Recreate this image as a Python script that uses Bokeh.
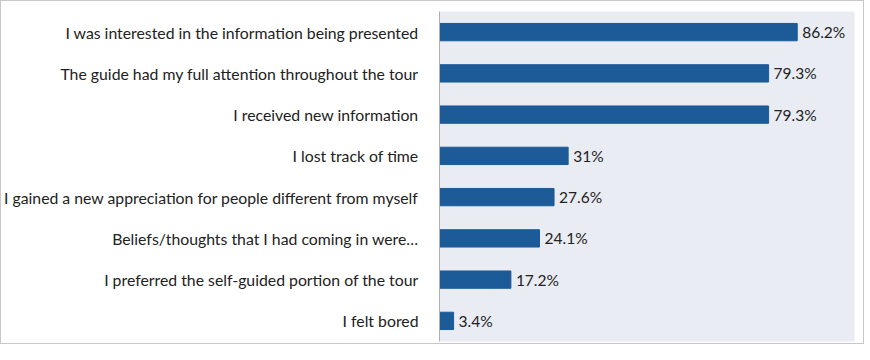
from bokeh.plotting import figure
from bokeh.models import FactorRange, ColumnDataSource
from bokeh.core.properties import value
from bokeh.embed import file_html
from bokeh.resources import INLINE

categories = [
    "I was interested in the information being presented",
    "The guide had my full attention throughout the tour",
    "I received new information",
    "I lost track of time",
    "I gained a new appreciation for people different from myself",
    "Beliefs/thoughts that I had coming in were\u2026",
    "I preferred the self-guided portion of the tour",
    "I felt bored",
]
values = [86.2, 79.3, 79.3, 31.0, 27.6, 24.1, 17.2, 3.4]
value_labels = ["86.2%", "79.3%", "79.3%", "31%", "27.6%", "24.1%", "17.2%", "3.4%"]

FONT = "Lato"

src = ColumnDataSource(dict(cat=categories, val=values, lab=value_labels))

p = figure(
    width=864, height=344,
    y_range=FactorRange(factors=list(reversed(categories))),
    x_range=(0, 100),
    output_backend="svg", toolbar_location=None,
    min_border_left=433, min_border_right=11, min_border_top=10, min_border_bottom=4,
)
p.styles = {"border": "1px solid #c8c8c8", "box-sizing": "border-box"}
p.background_fill_color = "#e9ecf3"
p.border_fill_color = "white"
p.outline_line_color = None
p.grid.grid_line_color = None

p.hbar(y="cat", right="val", left=0, height=0.42, source=src,
       fill_color="#1c5b98", line_color="#1c5b98")
p.text(x="val", y="cat", text="lab", source=src, x_offset=5,
       text_baseline="middle", text_align="left",
       text_font=value(FONT), text_font_size="15.5px", text_color="#222222")

p.xaxis.visible = False
ya = p.yaxis[0]
ya.axis_line_color = "#b0b0b0"
ya.major_tick_line_color = None
ya.minor_tick_line_color = None
ya.major_label_text_font = FONT
ya.major_label_text_font_size = "15.8px"
ya.major_label_text_color = "#222222"
ya.major_label_standoff = 15

open("out.html", "w").write(file_html(p, INLINE))
